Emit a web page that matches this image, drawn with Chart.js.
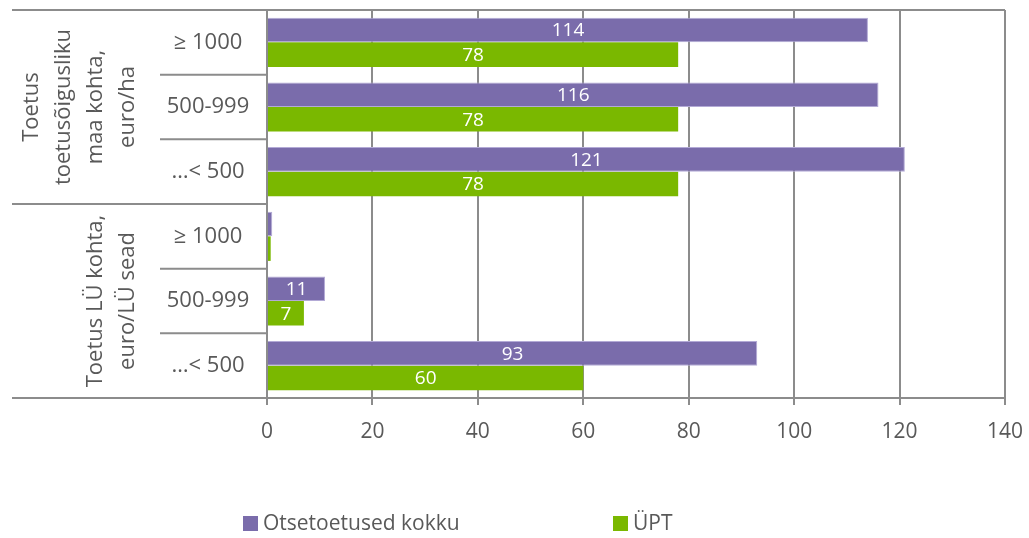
<!DOCTYPE html>
<html>
<head>
<meta charset="utf-8">
<script src="https://cdn.jsdelivr.net/npm/chart.js@4.4.1/dist/chart.umd.min.js"></script>
<style>
  html, body { margin: 0; padding: 0; background: #fff; }
  #wrap { width: 1029px; height: 538px; }
</style>
</head>
<body>
<div id="wrap"><canvas id="chart" width="1029" height="538"></canvas></div>
<script>
// categories (top to bottom) and their groups
const categories = ['≥ 1000', '500-999', '…< 500', '≥ 1000', '500-999', '…< 500'];
const groups = [
  { lines: ['Toetus', 'toetusõigusliku', 'maa kohta,', 'euro/ha'], from: 0, to: 2 },
  { lines: ['Toetus LÜ kohta,', 'euro/LÜ sead'], from: 3, to: 5 }
];
const seriesNames = ['Otsetoetused kokku', 'ÜPT'];
const otsetoetused = [114, 116, 121, 1.0, 11, 93];
const upt = [78, 78, 78, 0.7, 7, 60];
const xTicks = [0, 20, 40, 60, 80, 100, 120, 140];

const PURPLE = '#7a6cab';
const GREEN = '#7ab800';
const GRID = '#8c8c8c';
const TEXT = '#595959';
const FONT = '"Open Sans", "Noto Sans", sans-serif';

const decorPlugin = {
  id: 'decor',
  afterDatasetsDraw(chart) {
    const ctx = chart.ctx;
    const area = chart.chartArea;
    const y = chart.scales.y;
    const half = (y.getPixelForValue(1) - y.getPixelForValue(0)) / 2;

    // value labels inside bars
    ctx.save();
    ctx.fillStyle = '#fff';
    ctx.font = '19px ' + FONT;
    ctx.textAlign = 'center';
    ctx.textBaseline = 'middle';
    chart.data.datasets.forEach((ds, di) => {
      chart.getDatasetMeta(di).data.forEach((bar, i) => {
        const v = ds.data[i];
        if (v < 3) return;
        ctx.fillText(String(v), (bar.x + bar.base) / 2, bar.y + 1);
      });
    });
    ctx.restore();

    // frame and separators of the category area
    ctx.save();
    ctx.strokeStyle = GRID;
    ctx.lineWidth = 2;
    ctx.beginPath();
    ctx.moveTo(12, area.top);
    ctx.lineTo(area.right, area.top);
    for (let i = 0; i < categories.length - 1; i++) {
      const yy = y.getPixelForValue(i) + half;
      const isGroupEdge = groups.some(g => g.to === i);
      ctx.moveTo(isGroupEdge ? 12 : 160, yy);
      ctx.lineTo(area.left, yy);
    }
    ctx.moveTo(12, area.bottom);
    ctx.lineTo(area.left, area.bottom);
    ctx.stroke();
    ctx.restore();

    // category labels
    ctx.save();
    ctx.fillStyle = TEXT;
    ctx.font = '22px ' + FONT;
    ctx.textAlign = 'center';
    ctx.textBaseline = 'middle';
    categories.forEach((c, i) => {
      ctx.fillText(c, 208, y.getPixelForValue(i));
    });

    // group labels, rotated
    groups.forEach(g => {
      const yc = (y.getPixelForValue(g.from) - half + y.getPixelForValue(g.to) + half) / 2;
      const n = g.lines.length;
      g.lines.forEach((line, k) => {
        const xc = 128 - (n - 1 - k) * 32;
        ctx.save();
        ctx.translate(xc, yc);
        ctx.rotate(-Math.PI / 2);
        ctx.fillText(line, 0, 0);
        ctx.restore();
      });
    });
    ctx.restore();

    // legend
    ctx.save();
    ctx.font = '21px ' + FONT;
    ctx.textBaseline = 'middle';
    ctx.textAlign = 'left';
    const legendX = [243, 613];
    chart.data.datasets.forEach((ds, di) => {
      ctx.fillStyle = ds.backgroundColor;
      ctx.fillRect(legendX[di], 516, 15, 15);
      ctx.fillStyle = TEXT;
      ctx.fillText(ds.label, legendX[di] + 20, 524);
    });
    ctx.restore();
  }
};

new Chart(document.getElementById('chart'), {
  type: 'bar',
  data: {
    labels: categories,
    datasets: [
      { label: seriesNames[0], data: otsetoetused, backgroundColor: PURPLE, borderColor: '#b3aad6', borderWidth: 1 },
      { label: seriesNames[1], data: upt, backgroundColor: GREEN, borderWidth: 0 }
    ]
  },
  options: {
    indexAxis: 'y',
    responsive: false,
    animation: false,
    events: [],
    layout: { padding: { left: 267, right: 24, top: 10, bottom: 0 } },
    datasets: { bar: { categoryPercentage: 0.76, barPercentage: 1.0 } },
    plugins: { legend: { display: false }, tooltip: { enabled: false } },
    scales: {
      y: { type: 'category', display: false },
      x: {
        min: 0,
        max: 140,
        afterFit(scale) {
          scale.height = 140;
          scale.paddingLeft = 0;
          scale.paddingRight = 0;
        },
        afterBuildTicks(scale) { scale.ticks = xTicks.map(v => ({ value: v })); },
        grid: { color: GRID, lineWidth: 2, tickLength: 7, drawTicks: true },
        border: { color: GRID, width: 2 },
        ticks: {
          color: TEXT,
          padding: 14,
          font: { family: FONT, size: 21 }
        }
      }
    }
  },
  plugins: [decorPlugin]
});
</script>
</body>
</html>
